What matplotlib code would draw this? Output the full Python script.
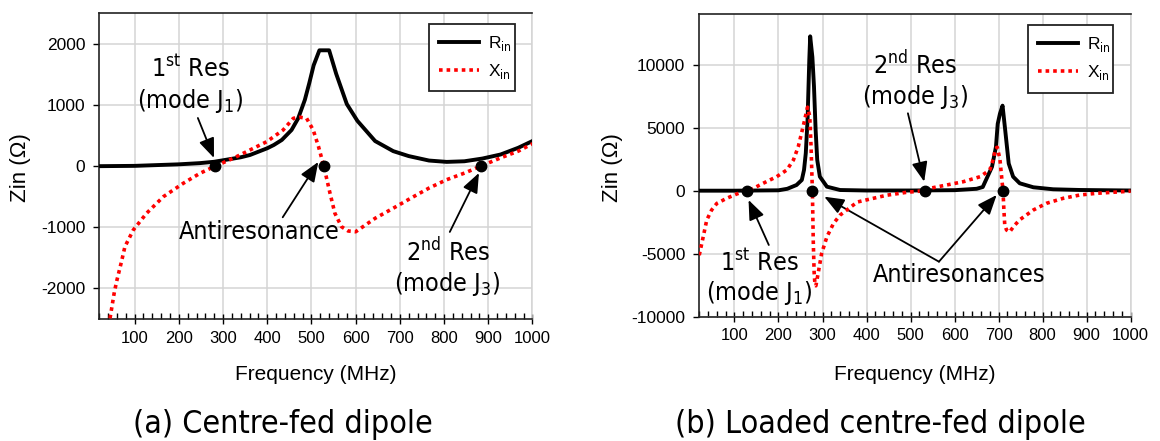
import matplotlib
matplotlib.use('Agg')
import matplotlib.pyplot as plt
from matplotlib.ticker import MultipleLocator
from matplotlib import font_manager as fm

# ---------------- data ----------------
# (a) Centre-fed dipole
freq_a_R = [20, 100, 200, 248, 280, 340, 361, 400, 415, 433, 455, 470, 485, 495, 505, 518, 540,
            556, 580, 604, 644, 685, 720, 766, 806, 846, 887, 928, 968, 1000]
R_a = [0, 5, 30, 50, 72, 145, 183, 293, 347, 429, 592, 783, 1083, 1356, 1650, 1895, 1895,
       1510, 1016, 741, 411, 246, 165, 92, 70, 80, 125, 191, 301, 411]
freq_a_X = [30, 40, 44, 54, 60, 70, 78, 97, 127, 165, 210, 248, 282, 323, 361, 399, 436, 459, 474,
            489, 504, 516, 528, 542, 553, 568, 583, 600, 644, 685, 725, 766, 806, 847, 883, 928,
            968, 1000]
X_a = [-3600, -2750, -2500, -2061, -1861, -1567, -1316, -1043, -770, -499, -280, -116, 0, 129, 265,
       401, 592, 783, 800, 783, 592, 319, 0, -443, -770, -990, -1060, -1073, -853, -688, -523,
       -358, -221, -111, 0, 136, 246, 367]
zero_a = [282, 528, 883]

# (b) Loaded centre-fed dipole
freq_b_R = [20, 100, 200, 220, 241, 253, 258, 262, 266, 270, 272, 277, 280.6, 284.4, 288, 294, 310,
            340, 400, 500, 600, 650, 664, 685, 694, 698, 703, 709, 715, 723, 733, 748, 779, 824,
            885, 1000]
R_b = [0, 0, 30, 150, 450, 850, 1645, 2970, 5600, 10400, 12250, 10600, 8300, 4800, 2440, 1114, 318,
       53, 15, 15, 40, 150, 290, 1890, 3480, 5300, 6100, 6750, 4815, 2155, 1111, 587, 270, 111,
       56, 15]
freq_b_X = [20, 29, 37, 48, 60, 82, 105, 120, 128, 143, 165, 196, 219, 234, 245, 256, 266, 271, 274,
            277, 279, 281, 283, 285, 290, 298, 310, 325, 340, 379, 421, 446, 491, 533, 544, 582,
            620, 658, 680, 688, 693, 697, 703, 708, 710, 712, 714, 718, 725, 735, 748, 779, 809,
            847, 885, 923, 1000]
X_b = [-5120, -3660, -2335, -1540, -1008, -610, -265, -80, 0, 186, 584, 1114, 1645, 2441, 3500, 5094,
       6630, 5900, 3500, 0, -4000, -6500, -7500, -7550, -6580, -4988, -3660, -2600, -1937, -900,
       -560, -360, -130, 0, 190, 452, 714, 1111, 1643, 2500, 3350, 3450, 2500, 700, 0, -1500,
       -2722, -3119, -3280, -2800, -2310, -1532, -1000, -603, -341, -206, -40]
zero_b = [128, 277, 533, 710]

legend_labels = ['R$_{\\mathrm{in}}$', 'X$_{\\mathrm{in}}$']
yticks_a = [-2000, -1000, 0, 1000, 2000]
yticks_b = [-10000, -5000, 0, 5000, 10000]

# ---------------- fonts ----------------
cond = any(f.name == 'DejaVu Sans' and str(f.stretch) in ('condensed', 'semi-condensed')
           for f in fm.fontManager.ttflist)
if cond:
    ANN = dict(family='DejaVu Sans', fontstretch='condensed', fontsize=18)
    CAP = dict(family='DejaVu Sans', fontstretch='condensed', fontsize=23)
    plt.rcParams['mathtext.rm'] = 'DejaVu Sans:stretch=condensed'
else:
    ANN = dict(family='DejaVu Sans', fontsize=17)
    CAP = dict(family='DejaVu Sans', fontsize=21.5)
    plt.rcParams['mathtext.rm'] = 'DejaVu Sans'
plt.rcParams['mathtext.fontset'] = 'custom'
plt.rcParams['mathtext.default'] = 'rm'
plt.rcParams['font.family'] = ['Liberation Sans', 'DejaVu Sans']
plt.rcParams['axes.unicode_minus'] = False

GRID = '#d4d4d4'

fig = plt.figure(figsize=(11.6, 4.41), dpi=100)
ax1 = fig.add_axes([0.0856, 0.2766, 0.3734, 0.6932])
ax2 = fig.add_axes([0.6028, 0.2819, 0.3719, 0.6857])


def style(ax, ylim, yticks):
    ax.set_xlim(20, 1000)
    ax.set_ylim(*ylim)
    ax.set_yticks(yticks)
    ax.xaxis.set_major_locator(MultipleLocator(100))
    ax.xaxis.set_minor_locator(MultipleLocator(20))
    ax.set_axisbelow(True)
    ax.grid(True, which='major', color=GRID, lw=1.1)
    ax.tick_params(axis='x', which='major', direction='inout', length=7, width=1,
                   labelsize=12, pad=5)
    ax.tick_params(axis='x', which='minor', direction='in', length=4, width=1)
    ax.tick_params(axis='y', which='major', direction='out', length=4, width=1,
                   labelsize=12.5, pad=6)
    for s in ('left', 'bottom', 'top'):
        ax.spines[s].set_color('#222222')
        ax.spines[s].set_linewidth(1.2)
    ax.spines['right'].set_color(GRID)
    ax.spines['right'].set_linewidth(1.1)


def draw(ax, fr, R, fx, X, zeros, leg_anchor):
    l1, = ax.plot(fr, R, color='black', lw=2.8, solid_joinstyle='round', zorder=3)
    l2, = ax.plot(fx, X, color='#ff0000', lw=2.6, linestyle=(0, (1, 1.1)), zorder=4)
    ax.plot(zeros, [0] * len(zeros), 'o', color='black', ms=7.5, zorder=6)
    leg = ax.legend([l1, l2], legend_labels, loc='upper left', bbox_to_anchor=leg_anchor,
                    mode='expand', fancybox=False, framealpha=1, edgecolor='#222222',
                    prop=dict(family='Liberation Sans', size=12.5), handlelength=2.3,
                    handletextpad=0.5, borderpad=0.6, labelspacing=0.5, borderaxespad=0)
    leg.get_frame().set_linewidth(1.3)


style(ax1, (-2500, 2500), yticks_a)
style(ax2, (-10000, 14000), yticks_b)
draw(ax1, freq_a_R, R_a, freq_a_X, X_a, zero_a, (0.761, 0.7445, 0.199, 0.2221))
draw(ax2, freq_b_R, R_b, freq_b_X, X_b, zero_b, (0.762, 0.744, 0.197, 0.2206))

AP = dict(arrowstyle='-|>,head_length=0.6,head_width=0.24', mutation_scale=20,
          lw=1.3, color='black', shrinkA=0, shrinkB=0)

# annotations panel (a)
ax1.text(226, 1590, '1$^{\\mathrm{st}}$ Res', ha='center', va='center', **ANN)
ax1.text(226, 1066, '(mode J$_{1}$)', ha='center', va='center', **ANN)
ax1.annotate('', xy=(279.5, 134), xytext=(243, 788), arrowprops=AP)
ax1.text(381, -1071, 'Antiresonance', ha='center', va='center', **ANN)
ax1.annotate('', xy=(515.5, 69), xytext=(435, -836), arrowprops=AP)
ax1.text(809, -1403, '2$^{\\mathrm{nd}}$ Res', ha='center', va='center', **ANN)
ax1.text(807, -1927, '(mode J$_{3}$)', ha='center', va='center', **ANN)
ax1.annotate('', xy=(879, -111), xytext=(813, -1076), arrowprops=AP)

# annotations panel (b)
ax2.text(510, 9976, '2$^{\\mathrm{nd}}$ Res', ha='center', va='center', **ANN)
ax2.text(510, 7460, '(mode J$_{3}$)', ha='center', va='center', **ANN)
ax2.annotate('', xy=(531, 714), xytext=(494, 6143), arrowprops=AP)
ax2.text(156, -5738, '1$^{\\mathrm{st}}$ Res', ha='center', va='center', **ANN)
ax2.text(156, -8119, '(mode J$_{1}$)', ha='center', va='center', **ANN)
ax2.annotate('', xy=(132, -738), xytext=(178, -4310), arrowprops=AP)
ax2.text(610, -6690, 'Antiresonances', ha='center', va='center', **ANN)
ax2.annotate('', xy=(304, -476), xytext=(564.5, -5635), arrowprops=AP)
ax2.annotate('', xy=(695.6, -341), xytext=(564.5, -5635), arrowprops=AP)

# axis titles and captions
fig.text(0.2724, 0.1497, 'Frequency (MHz)', ha='center', va='center', fontsize=15)
fig.text(0.7888, 0.1497, 'Frequency (MHz)', ha='center', va='center', fontsize=15)
fig.text(0.0175, 0.619, 'Zin (\u03a9)', ha='center', va='center', rotation=90, fontsize=16)
fig.text(0.5276, 0.621, 'Zin (\u03a9)', ha='center', va='center', rotation=90, fontsize=16)
fig.text(0.2440, 0.0363, '(a) Centre-fed dipole', ha='center', va='center', **CAP)
fig.text(0.7586, 0.0363, '(b) Loaded centre-fed dipole', ha='center', va='center', **CAP)

fig.savefig('out.png', dpi=100)
